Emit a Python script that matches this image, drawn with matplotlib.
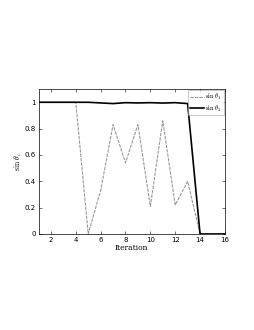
import matplotlib
matplotlib.use("Agg")
import matplotlib.pyplot as plt

iterations = list(range(1, 17))
sin_theta1 = [1, 1, 1, 1, 0, 0.33, 0.83, 0.54, 0.83, 0.21, 0.86, 0.22, 0.40, 0, 0, 0]
sin_theta2 = [1, 1, 1, 1, 1, 0.995, 0.99, 0.997, 0.995, 0.997, 0.994, 0.997, 0.99, 0, 0, 0]
xticks = [2, 4, 6, 8, 10, 12, 14, 16]
yticks = [0, 0.2, 0.4, 0.6, 0.8, 1]

plt.rcParams['mathtext.fontset'] = 'cm'
fig = plt.figure(figsize=(2.55, 3.3), dpi=100)
ax = fig.add_axes([0.151, 0.291, 0.731, 0.439])
ax.plot(iterations, sin_theta1, linestyle='--', color='#999999', lw=0.8, label=r'$\sin\,\theta_1$', dashes=(3, 1))
ax.plot(iterations, sin_theta2, linestyle='-', color='black', lw=1.2, label=r'$\sin\,\theta_2$')
ax.set_xlim(1, 16)
ax.set_ylim(0, 1.1)
ax.set_xticks(xticks)
ax.set_yticks(yticks)
ax.set_yticklabels(['0', '0.2', '0.4', '0.6', '0.8', '1'])
ax.tick_params(labelsize=5, length=2, width=0.4, direction='in', pad=2, top=True, right=True)
for s in ax.spines.values():
    s.set_linewidth(0.5)
ax.set_xlabel('Iteration', fontsize=5.5, family='DejaVu Serif', labelpad=1)
ax.set_ylabel(r'$\sin\,\theta_i$', fontsize=5.5, labelpad=0)
leg = ax.legend(loc='upper right', fontsize=4.5, frameon=True, fancybox=False, edgecolor='#888888',
                borderpad=0.3, handlelength=2.2, labelspacing=0.2, handletextpad=0.3, borderaxespad=0.2)
leg.get_frame().set_linewidth(0.4)
fig.savefig('out.png', dpi=100)
